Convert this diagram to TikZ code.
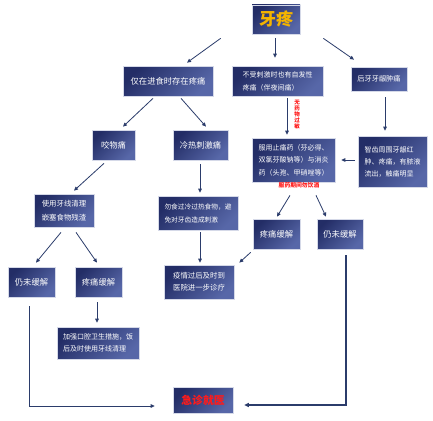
\documentclass[tikz,border=0pt]{standalone}
\usepackage{fontspec}
\setmainfont{Noto Sans CJK SC}
\usetikzlibrary{arrows.meta,shadows,calc}
\definecolor{bxdark}{HTML}{232D66}
\definecolor{bxlight}{HTML}{5767A8}
\definecolor{bxedge}{HTML}{D5D9E8}
\definecolor{arrc}{HTML}{2B3C6B}
\definecolor{arrlight}{HTML}{8595BA}
\definecolor{goldtxt}{HTML}{F4B400}
\definecolor{alertred}{HTML}{FF1A1A}
\begin{document}
\begin{tikzpicture}[x=1pt,y=-1pt,
  box/.style={draw=bxedge, line width=0.7pt, top color=bxdark, bottom color=bxlight, shading angle=45,
    text=white, inner sep=0pt, anchor=center,
    drop shadow={opacity=0.25,shadow xshift=1pt,shadow yshift=-1pt}},
  big/.style={font=\fontsize{8.3}{10}\selectfont},
  small/.style={font=\fontsize{7}{12.5}\selectfont, align=left},
  arr/.style={draw=arrc, line width=0.8pt, -{Triangle[length=4pt,width=3.6pt]}},
  arrl/.style={draw=arrlight, line width=1.4pt, -{Triangle[length=4.5pt,width=4pt]}, arrc},
  redlabel/.style={text=alertred, inner sep=0pt}
]
\fill[white] (0,0) rectangle (433,420);
\useasboundingbox (0,0) rectangle (433,420);

% nodes
\node[box, minimum width=48pt, minimum height=29pt, font=\fontsize{17}{17}\selectfont\bfseries, text=goldtxt] (title) at (276,19.5) {牙疼};
\node[box, big, minimum width=90pt, minimum height=30pt] (eat) at (168,81) {仅在进食时存在疼痛};
\node[box, small, minimum width=91pt, minimum height=30pt, font=\fontsize{7}{13}\selectfont] (spont) at (277.5,81) {不受刺激时也有自发性\\疼痛（伴夜间痛）};
\node[box, minimum width=56pt, minimum height=24pt, font=\fontsize{7.2}{9}\selectfont] (gum) at (379,79) {后牙牙龈肿痛};
\node[box, big, minimum width=43pt, minimum height=30pt] (bite) at (113.5,145) {咬物痛};
\node[box, big, minimum width=55pt, minimum height=30pt] (cold) at (200.5,145) {冷热刺激痛};
\node[box, small, minimum width=83pt, minimum height=44pt] (drug) at (293.5,160) {服用止痛药（芬必得、\\双氯芬酸钠等）与消炎\\药（头孢、甲硝唑等）};
\node[box, small, minimum width=69pt, minimum height=51pt, font=\fontsize{7}{12}\selectfont] (wisdom) at (392.5,161.5) {智齿周围牙龈红\\肿、疼痛，有脓液\\流出，触痛明显};
\node[box, small, minimum width=60pt, minimum height=33pt, font=\fontsize{7.4}{14.5}\selectfont] (floss) at (64,210.5) {使用牙线清理\\嵌塞食物残渣};
\node[box, small, minimum width=80pt, minimum height=34pt, font=\fontsize{6.7}{13}\selectfont] (avoid) at (198,213) {勿食过冷过热食物，避\\免对牙齿造成刺激};
\node[box, big, minimum width=47pt, minimum height=30pt] (relief2) at (276.5,234) {疼痛缓解};
\node[box, big, minimum width=46pt, minimum height=30pt] (norelief2) at (340,234) {仍未缓解};
\node[box, big, minimum width=47pt, minimum height=30pt] (norelief1) at (31.5,282) {仍未缓解};
\node[box, big, minimum width=47pt, minimum height=30pt] (relief1) at (98.5,282) {疼痛缓解};
\node[box, small, minimum width=70pt, minimum height=34pt, font=\fontsize{7.4}{12}\selectfont] (after) at (199,282) {疫情过后及时到\\医院进一步诊疗};
\node[box, small, minimum width=82pt, minimum height=32pt, font=\fontsize{7}{12}\selectfont] (hygiene) at (98,343) {加强口腔卫生措施，饭\\后及时使用牙线清理};
\node[box, minimum width=60pt, minimum height=26pt, font=\fontsize{10.8}{12}\selectfont\bfseries, text=alertred] (er) at (203,400) {急诊就医};

% red notes
\node[redlabel, font=\fontsize{5.5}{6}\selectfont\bfseries, align=center] (noallergy) at (297,115) {无\\药\\物\\过\\敏};
\node[redlabel, font=\fontsize{5.8}{6}\selectfont\bfseries] (nodrink) at (299,185.5) {服药期间勿饮酒};

% connectors
\draw[arr] ([xshift=-31pt,yshift=-4pt]title.south west) -- ([xshift=19pt,yshift=3pt]eat.north);
\draw[arr] ([xshift=-1pt,yshift=-4pt]title.south) -- ([xshift=-2.5pt,yshift=8pt]spont.north);
\draw[arr] ([xshift=23pt,yshift=-4pt]title.south east) -- ([xshift=-25pt,yshift=7pt]gum.north);
\draw[arr] ([xshift=-15pt,yshift=-2pt]eat.south) -- ([xshift=9.5pt,yshift=3pt]bite.north);
\draw[arr] ([xshift=13pt,yshift=-2pt]eat.south) -- ([xshift=5.5pt,yshift=3pt]cold.north);
\draw[arr] ([xshift=9.5pt,yshift=-2pt]spont.south) -- ([xshift=-6.5pt,yshift=3pt]drug.north);
\draw[arr] ([xshift=6pt,yshift=-6pt]gum.south) -- ([xshift=-7.5pt,yshift=5pt]wisdom.north);
\draw[arr] ([xshift=-3pt,yshift=1.5pt]wisdom.west) -- ([xshift=6pt]drug.east);
\draw[arr] ([xshift=-9.5pt,yshift=-3pt]bite.south) -- ([xshift=10pt,yshift=3pt]floss.north);
\draw[arr] ([xshift=-0.5pt,yshift=-4pt]cold.south) -- ([xshift=2pt,yshift=3pt]avoid.north);
\draw[arr] ([xshift=-3pt,yshift=-5pt]floss.south) -- ([xshift=4.5pt,yshift=4pt]norelief1.north);
\draw[arr] ([xshift=12pt,yshift=-5pt]floss.south) -- ([xshift=-1.5pt,yshift=4pt]relief1.north);
\draw[arr] ([xshift=2pt,yshift=-2pt]avoid.south) -- ([xshift=1pt,yshift=2pt]after.north);
\draw[arr] ([xshift=-3.5pt,yshift=-13pt]drug.south) -- ([xshift=0.5pt,yshift=2pt]relief2.north);
\draw[arr] ([xshift=22.5pt,yshift=-13pt]drug.south) -- ([xshift=-14pt,yshift=2pt]norelief2.north);
\draw[arr] ([xshift=-2pt,yshift=-3pt]relief2.south west) -- ([xshift=5pt,yshift=2pt]after.north east);
\draw[arr] ([xshift=-1.5pt,yshift=-5pt]relief1.south) -- ([xshift=-1pt,yshift=4pt]hygiene.north);
\draw[arr] ([xshift=-2.5pt,yshift=-9pt]norelief1.south) |- ([xshift=-18pt,yshift=-6pt]er.west);
\draw[arrl] ([xshift=6pt,yshift=-6pt]norelief2.south) |- ([xshift=11pt,yshift=-5pt]er.east);
\end{tikzpicture}
\end{document}
